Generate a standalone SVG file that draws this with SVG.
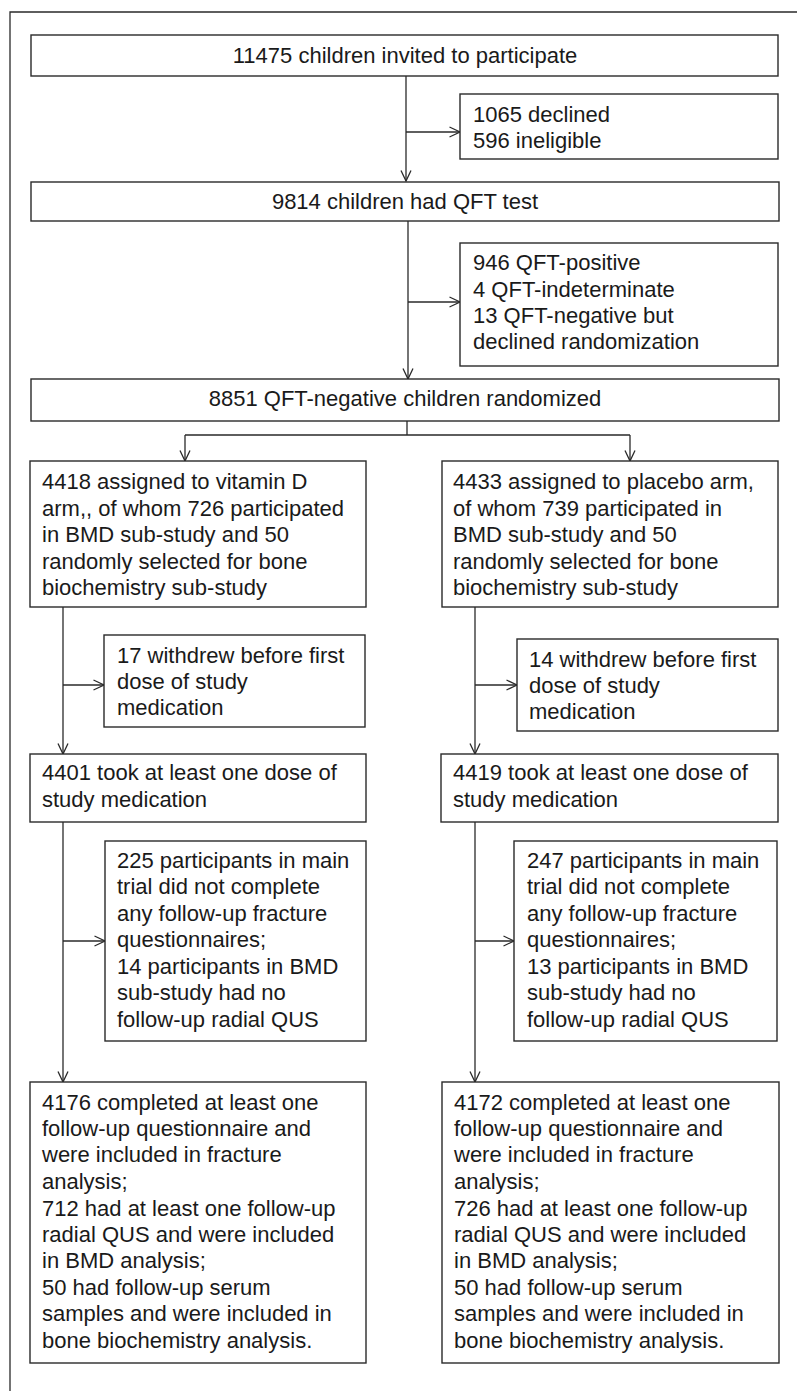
<svg xmlns="http://www.w3.org/2000/svg" width="797" height="1391" viewBox="0 0 797 1391">
<defs>
<style>
.box{fill:#fff;stroke:#2a2a2a;stroke-width:1.4}
.ln{fill:none;stroke:#2a2a2a;stroke-width:1.3}
.arr{fill:none;stroke:#2a2a2a;stroke-width:1.3;marker-end:url(#ah)}
text{font-family:"Liberation Sans",Arial,sans-serif;font-size:22px;fill:#1a1a1a}
.c{text-anchor:middle}
</style>
<marker id="ah" viewBox="0 0 12 12" refX="11.5" refY="6" markerWidth="12" markerHeight="12" markerUnits="userSpaceOnUse" orient="auto">
<path d="M1,1 L11.5,6 L1,11" fill="none" stroke="#2a2a2a" stroke-width="1.3"/>
</marker>
</defs>
<rect width="797" height="1391" fill="#fff"/>
<path class="ln" d="M10,1391 V12 H797" stroke-width="1.6"/>
<g id="connectors">
<path class="arr" d="M406,76 V181"/>
<path class="arr" d="M406,132 H460"/>
<path class="arr" d="M408,221 V379"/>
<path class="arr" d="M408,302 H460"/>
<path class="ln" d="M407,421 V435 M185,435 H630"/>
<path class="arr" d="M185,435 V461"/>
<path class="arr" d="M630,435 V461"/>
<path class="arr" d="M63,607 V754"/>
<path class="arr" d="M63,685 H104"/>
<path class="arr" d="M475,607 V754"/>
<path class="arr" d="M475,685 H517"/>
<path class="arr" d="M63,822 V1082"/>
<path class="arr" d="M63,941 H105"/>
<path class="arr" d="M475,822 V1082"/>
<path class="arr" d="M475,941 H514"/>
</g>
<g id="invited">
<rect class="box" x="31" y="35" width="747" height="41"/>
<text class="c" x="405" y="63">11475 children invited to participate</text>
</g>
<g id="excluded1">
<rect class="box" x="460" y="94" width="318" height="65"/>
<text x="473" y="122">1065 declined</text>
<text x="473" y="148">596 ineligible</text>
</g>
<g id="qft">
<rect class="box" x="31" y="182" width="748" height="39"/>
<text class="c" x="405" y="209">9814 children had QFT test</text>
</g>
<g id="excluded2">
<rect class="box" x="460" y="243" width="318" height="123"/>
<text x="473" y="270">946 QFT-positive</text>
<text x="473" y="297">4 QFT-indeterminate</text>
<text x="473" y="323">13 QFT-negative but</text>
<text x="473" y="349">declined randomization</text>
</g>
<g id="randomized">
<rect class="box" x="31" y="379" width="748" height="42"/>
<text class="c" x="405" y="406">8851 QFT-negative children randomized</text>
</g>
<g id="vitd-arm">
<rect class="box" x="30" y="461" width="336" height="146"/>
<text x="42" y="489">4418 assigned to vitamin D</text>
<text x="42" y="516">arm,, of whom 726 participated</text>
<text x="42" y="542">in BMD sub-study and 50</text>
<text x="42" y="569">randomly selected for bone</text>
<text x="42" y="595">biochemistry sub-study</text>
</g>
<g id="placebo-arm">
<rect class="box" x="442" y="461" width="336" height="146"/>
<text x="453" y="489">4433 assigned to placebo arm,</text>
<text x="453" y="516">of whom 739 participated in</text>
<text x="453" y="542">BMD sub-study and 50</text>
<text x="453" y="569">randomly selected for bone</text>
<text x="453" y="595">biochemistry sub-study</text>
</g>
<g id="vitd-withdrew">
<rect class="box" x="104" y="635" width="261" height="92"/>
<text x="117" y="663">17 withdrew before first</text>
<text x="117" y="689">dose of study</text>
<text x="117" y="715">medication</text>
</g>
<g id="placebo-withdrew">
<rect class="box" x="517" y="639" width="261" height="92"/>
<text x="529" y="667">14 withdrew before first</text>
<text x="529" y="693">dose of study</text>
<text x="529" y="719">medication</text>
</g>
<g id="vitd-dosed">
<rect class="box" x="30" y="754" width="336" height="68"/>
<text x="42" y="780">4401 took at least one dose of</text>
<text x="42" y="807">study medication</text>
</g>
<g id="placebo-dosed">
<rect class="box" x="441" y="754" width="337" height="68"/>
<text x="453" y="780">4419 took at least one dose of</text>
<text x="453" y="807">study medication</text>
</g>
<g id="vitd-lost">
<rect class="box" x="105" y="841" width="261" height="200"/>
<text x="117" y="868">225 participants in main</text>
<text x="117" y="894">trial did not complete</text>
<text x="117" y="921">any follow-up fracture</text>
<text x="117" y="947">questionnaires;</text>
<text x="117" y="974">14 participants in BMD</text>
<text x="117" y="1000">sub-study had no</text>
<text x="117" y="1027">follow-up radial QUS</text>
</g>
<g id="placebo-lost">
<rect class="box" x="514" y="841" width="263" height="200"/>
<text x="527" y="868">247 participants in main</text>
<text x="527" y="894">trial did not complete</text>
<text x="527" y="921">any follow-up fracture</text>
<text x="527" y="947">questionnaires;</text>
<text x="527" y="974">13 participants in BMD</text>
<text x="527" y="1000">sub-study had no</text>
<text x="527" y="1027">follow-up radial QUS</text>
</g>
<g id="vitd-analysed">
<rect class="box" x="30" y="1082" width="336" height="281"/>
<text x="42" y="1110">4176 completed at least one</text>
<text x="42" y="1136">follow-up questionnaire and</text>
<text x="42" y="1162">were included in fracture</text>
<text x="42" y="1189">analysis;</text>
<text x="42" y="1216">712 had at least one follow-up</text>
<text x="42" y="1242">radial QUS and were included</text>
<text x="42" y="1268">in BMD analysis;</text>
<text x="42" y="1295">50 had follow-up serum</text>
<text x="42" y="1321">samples and were included in</text>
<text x="42" y="1348">bone biochemistry analysis.</text>
</g>
<g id="placebo-analysed">
<rect class="box" x="442" y="1082" width="337" height="281"/>
<text x="454" y="1110">4172 completed at least one</text>
<text x="454" y="1136">follow-up questionnaire and</text>
<text x="454" y="1162">were included in fracture</text>
<text x="454" y="1189">analysis;</text>
<text x="454" y="1216">726 had at least one follow-up</text>
<text x="454" y="1242">radial QUS and were included</text>
<text x="454" y="1268">in BMD analysis;</text>
<text x="454" y="1295">50 had follow-up serum</text>
<text x="454" y="1321">samples and were included in</text>
<text x="454" y="1348">bone biochemistry analysis.</text>
</g>
</svg>
